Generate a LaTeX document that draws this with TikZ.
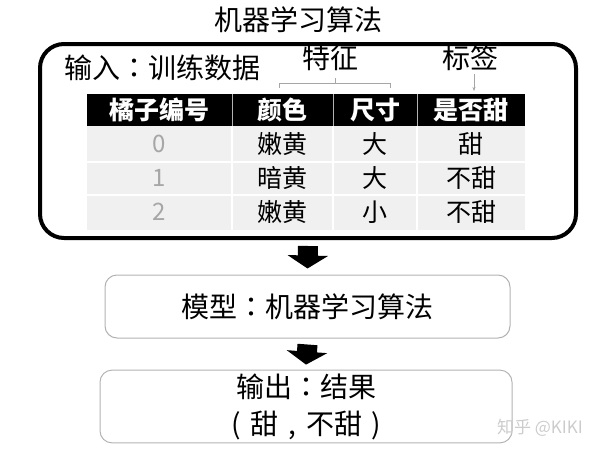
\documentclass[tikz,border=0pt]{standalone}
\usepackage{fontspec}
\setmainfont{Noto Sans CJK SC}
\newfontfamily\tcpunct{Noto Sans CJK TC}
\newcommand\zcolon{{\tcpunct ：}}
\newcommand\zmark[1]{\makebox[1em]{#1}}
\usetikzlibrary{arrows.meta,positioning}

\tikzset{
  frame/.style={draw, line width=4pt, rounded corners=24pt, minimum width=536, minimum height=194},
  stagebox/.style={draw=gray!60, line width=1pt, rounded corners=12pt, align=center, font=\fontsize{28}{37}\selectfont},
  bigtext/.style={font=\fontsize{28}{30}\selectfont},
  headcell/.style={text=white, font=\bfseries\fontsize{25}{27}\selectfont},
  bodycell/.style={font=\fontsize{25}{27}\selectfont},
  numcell/.style={text=gray!70, font=\fontsize{24}{27}\selectfont},
  blockarrow/.style={line width=20pt, -{Triangle[length=13pt,width=40pt]}},
}

\begin{document}
\begin{tikzpicture}[x=1pt,y=-1pt]
\useasboundingbox (0,0) rectangle (600,450);

\node[bigtext] (title) at (298,20) {机器学习算法};
\node[frame] (frame) at (308,141) {};
\node[bigtext] (input) at (162,68) {输入\zcolon 训练数据};
\node[bigtext] (feat) at (330,58) {特征};
\node[bigtext] (label) at (470,58) {标签};

% table
\fill[black] (87,94) rectangle (525,126);
\fill[gray!12] (87,126) rectangle (525,230);
\foreach \x in {232,333,417} {
  \draw[gray!60] (\x,94) -- (\x,126);
  \draw[white, line width=1.5pt] (\x,126) -- (\x,230);
}
\foreach \y in {162,195}
  \draw[white, line width=1.5pt] (87,\y) -- (525,\y);

\node[headcell] (h1) at (159,110) {橘子编号};
\node[headcell] (h2) at (282,110) {颜色};
\node[headcell] (h3) at (375,110) {尺寸};
\node[headcell] (h4) at (471,110) {是否甜};

\foreach \i/\c/\s/\t [count=\r from 0] in {0/嫩黄/大/甜, 1/暗黄/大/不甜, 2/嫩黄/小/不甜} {
  \node[numcell] (n\i) at (159,{144+34*\r}) {\i};
  \node[bodycell] (c\i) at (282,{144+34*\r}) {\c};
  \node[bodycell] (s\i) at (375,{144+34*\r}) {\s};
  \node[bodycell] (t\i) at (471,{144+34*\r}) {\t};
}

% feature bracket and label arrow
\draw[gray!70] (279,88) |- (390,83) -- (390,88);
\draw[gray!70] (335,83) -- (335,78);
\coordinate (labeltip) at (474,91);
\draw[gray!70, -{Stealth[length=4pt,width=3pt]}] (label.south -| labeltip) -- (labeltip);

% flow
\node[stagebox, minimum width=405, minimum height=63] (model) at (307.5,306.5) {模型\zcolon 机器学习算法};
\node[stagebox, minimum width=412, minimum height=67] (output) at (306,406.5) {输出\zcolon 结果\\\zmark{(}甜\zmark{,}不甜\zmark{)}};
\draw[blockarrow] ([yshift=-6pt]frame.south) -- ([yshift=6pt]model.north);
\draw[blockarrow] ([yshift=-6pt]model.south) -- ([yshift=5pt]output.north);

\node[text=gray!40, font=\fontsize{17}{20}\selectfont] (mark) at (540,428) {知乎 @KIKI};
\end{tikzpicture}
\end{document}
